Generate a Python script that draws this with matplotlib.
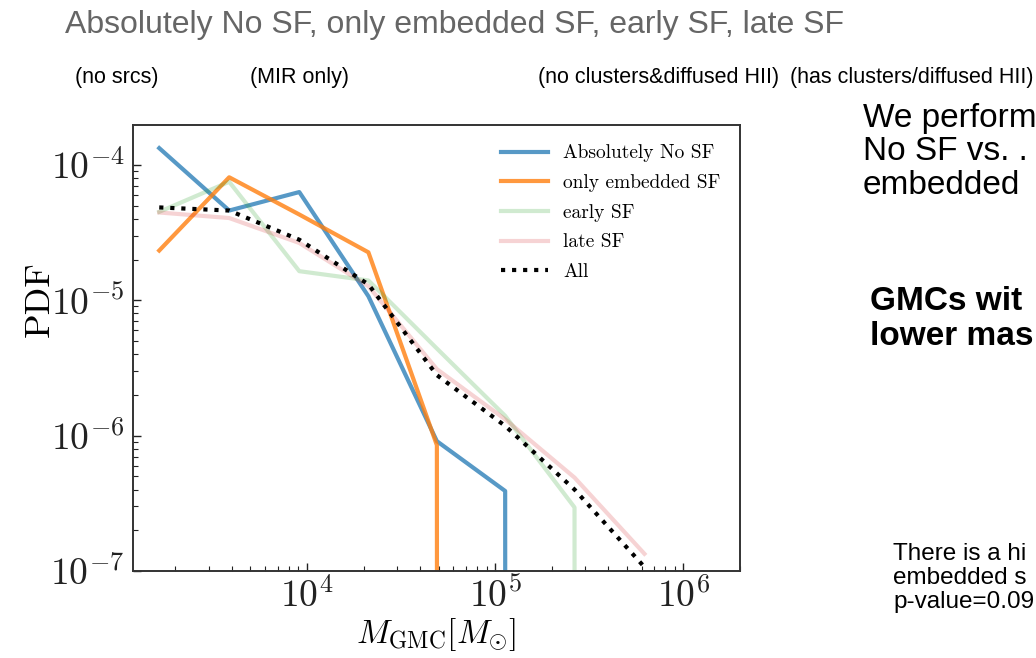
import matplotlib
matplotlib.use('Agg')
import matplotlib.pyplot as plt
from matplotlib.ticker import FuncFormatter, LogLocator
import numpy as np

plt.rcParams['mathtext.fontset'] = 'cm'

# GMC mass bin centres [M_sun]
mass = [1640, 3860, 9100, 21200, 49000, 113000, 264000, 621000]

# PDF per class (0 = empty bin, drawn as the vertical drop)
pdf_nosf = [1.33e-4, 4.6e-5, 6.3e-5, 1.07e-5, 9.1e-7, 3.9e-7, 0, 0]
pdf_embedded = [2.33e-5, 8.1e-5, 4.3e-5, 2.26e-5, 8.5e-7, 0, 0, 0]
pdf_early = [4.5e-5, 7.5e-5, 1.64e-5, 1.4e-5, 4.4e-6, 1.4e-6, 2.95e-7, 0]
pdf_late = [4.45e-5, 4.05e-5, 2.65e-5, 1.27e-5, 3.1e-6, 1.32e-6, 4.9e-7, 1.34e-7]
pdf_all = [4.85e-5, 4.6e-5, 2.8e-5, 1.31e-5, 2.8e-6, 1.18e-6, 4.0e-7, 1.07e-7]

fig = plt.figure(figsize=(10.36, 6.58), dpi=100)
ax = fig.add_axes([0.1284, 0.1322, 0.5859, 0.6778])

ax.plot(mass, pdf_nosf, color='tab:blue', alpha=0.75, lw=3, label='Absolutely No SF')
ax.plot(mass, pdf_embedded, color='tab:orange', alpha=0.8, lw=3, label='only embedded SF')
ax.plot(mass, pdf_early, color='tab:green', alpha=0.22, lw=3, label='early SF')
ax.plot(mass, pdf_late, color='tab:red', alpha=0.2, lw=3, label='late SF')
ax.plot(mass, pdf_all, color='black', ls=':', lw=3, label='All')

ax.set_xscale('log')
ax.set_yscale('log')
ax.set_xlim(1190, 2.0e6)
ax.set_ylim(1e-7, 1.97e-4)

powfmt = FuncFormatter(lambda v, p: r'$10^{%d}$' % round(np.log10(v)))
ax.xaxis.set_major_locator(LogLocator(base=10))
ax.yaxis.set_major_locator(LogLocator(base=10))
ax.xaxis.set_major_formatter(powfmt)
ax.yaxis.set_major_formatter(powfmt)

ax.tick_params(which='both', direction='in', labelsize=27, colors='#222222')
ax.tick_params(axis='x', pad=5)
ax.tick_params(axis='y', pad=6)
ax.tick_params(which='major', length=6, width=1)
ax.tick_params(which='minor', length=3.5, width=0.8)
for s in ax.spines.values():
    s.set_color('#333333')
    s.set_linewidth(1.4)

ax.set_ylabel('PDF', fontsize=26, family='cmr10')
ax.yaxis.set_label_coords(-0.128, 0.61)
ax.set_xlabel(r'$M_{\rm GMC}[M_{\odot}]$', fontsize=24)
ax.xaxis.set_label_coords(0.5, -0.1)

leg = ax.legend(loc='upper right', frameon=False, prop={'family': 'cmr10', 'size': 14},
                handlelength=2.4, labelspacing=0.6, borderaxespad=0.6)

# slide text around the figure
fig.text(65 / 1036, 1 - 25 / 658, 'Absolutely No SF, only embedded SF, early SF, late SF',
         fontsize=23, color='#666666', family='Liberation Sans', va='center', ha='left')
sub_x = [75, 250, 538, 790]
sub_txt = ['(no srcs)', '(MIR only)', '(no clusters&diffused HII)', '(has clusters/diffused HII)']
for x, t in zip(sub_x, sub_txt):
    fig.text(x / 1036, 1 - 77 / 658, t, fontsize=15.5, family='Liberation Sans',
             va='center', ha='left')

fig.text(863 / 1036, 1 - 152 / 658, 'We perform\nNo SF vs. .\nembedded', fontsize=24,
         family='Liberation Sans', va='center', ha='left', linespacing=1.12)
fig.text(870 / 1036, 1 - 319 / 658, 'GMCs wit\nlower mas', fontsize=24, fontweight='bold',
         family='Liberation Sans', va='center', ha='left', linespacing=1.15)
fig.text(893 / 1036, 1 - 578 / 658, 'There is a hi\nembedded s\np-value=0.09', fontsize=17.5,
         family='Liberation Sans', va='center', ha='left', linespacing=1.12)

plt.savefig('out.png', dpi=100)
